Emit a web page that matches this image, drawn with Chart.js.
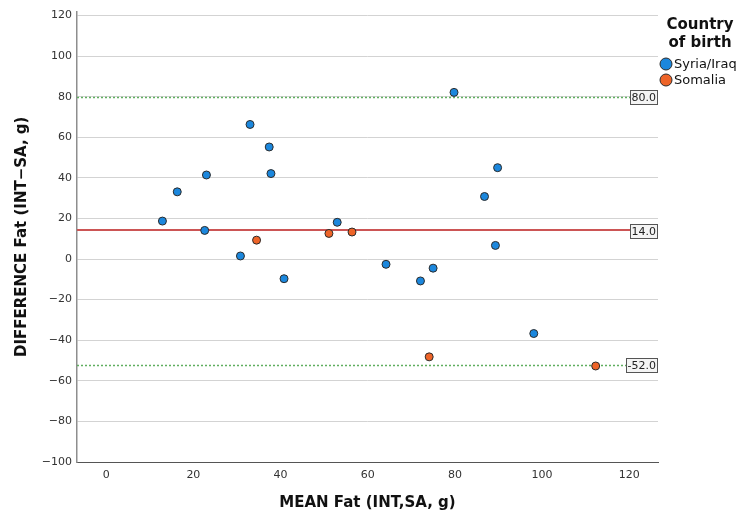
<!DOCTYPE html>
<html>
<head>
<meta charset="utf-8">
<title>Bland-Altman Fat</title>
<script src="https://cdn.jsdelivr.net/npm/chart.js@4.4.1/dist/chart.umd.min.js"></script>
<style>
  html, body { margin: 0; padding: 0; background: #fff; }
  #wrap { position: relative; width: 744px; height: 518px; }
</style>
</head>
<body>
<div id="wrap"><canvas id="chart"></canvas></div>
<script>
(function () {
  "use strict";

  // values
  const syriaIraqX = [12.9, 16.3, 23.0, 22.6, 30.8, 33.0, 37.4, 37.8, 40.8, 53.0, 64.2, 72.1, 75.0, 79.8, 86.8, 89.8, 89.3, 98.1];
  const syriaIraqY = [18.7, 33.1, 41.4, 14.1, 1.5, 66.3, 55.2, 42.1, -9.7, 18.1, -2.6, -10.8, -4.5, 82.1, 30.8, 45.0, 6.7, -36.7];
  const somaliaX = [34.5, 51.1, 56.4, 74.1, 112.3];
  const somaliaY = [9.3, 12.6, 13.3, -48.2, -52.7];
  const meanDiff = 14;
  const loaLimits = [80, -52];
  const xTicks = [0, 20, 40, 60, 80, 100, 120];
  const yTicks = [-100, -80, -60, -40, -20, 0, 20, 40, 60, 80, 100, 120];
  const seriesLabels = ["Syria/Iraq", "Somalia"];
  const legendTitle = ["Country", "of birth"];

  const palette = {
    blue: "#1b87dd",
    orange: "#ee6428",
    outline: "#2b2b2b",
    grid: "#d3d3d3",
    text: "#333333",
    red: "#cc5555",
    green: "#5fae5f"
  };
  const fontFamily = "\"DejaVu Sans\", sans-serif";

  const toPoints = (xs, ys) => xs.map((x, i) => ({ x: x, y: ys[i] }));
  const minus = v => String(v).replace("-", "\u2212");

  const refLines = {
    id: "refLines",
    beforeDatasetsDraw(chart) {
      const { ctx, chartArea, scales } = chart;
      const y = scales.y;
      ctx.save();
      loaLimits.forEach(v => {
        const py = Math.round(y.getPixelForValue(v)) + 0.5;
        ctx.strokeStyle = palette.green;
        ctx.lineWidth = 1.5;
        ctx.setLineDash([2, 2]);
        ctx.beginPath();
        ctx.moveTo(chartArea.left, py);
        ctx.lineTo(chartArea.right, py);
        ctx.stroke();
      });
      const pm = Math.floor(y.getPixelForValue(meanDiff));
      ctx.setLineDash([]);
      ctx.strokeStyle = palette.red;
      ctx.lineWidth = 2;
      ctx.beginPath();
      ctx.moveTo(chartArea.left, pm);
      ctx.lineTo(chartArea.right, pm);
      ctx.stroke();
      ctx.restore();
    },
    afterDatasetsDraw(chart) {
      const { ctx, chartArea, scales } = chart;
      const y = scales.y;
      ctx.save();
      ctx.font = "11px " + fontFamily;
      ctx.textBaseline = "middle";
      ctx.textAlign = "left";
      [loaLimits[0], meanDiff, loaLimits[1]].forEach(v => {
        const label = v.toFixed(1);
        const py = Math.round(y.getPixelForValue(v));
        const w = Math.ceil(ctx.measureText(label).width) + 2;
        const h = 14;
        const x0 = Math.round(chartArea.right) - w - 1;
        ctx.fillStyle = "#f4f4f4";
        ctx.fillRect(x0, py - h / 2, w, h);
        ctx.strokeStyle = "#555";
        ctx.lineWidth = 1;
        ctx.strokeRect(x0 + 0.5, py - h / 2 + 0.5, w, h);
        ctx.fillStyle = "#222";
        ctx.fillText(label, x0 + 1.5, py + 1);
      });
      ctx.restore();
    }
  };

  const sideLegend = {
    id: "sideLegend",
    afterDraw(chart) {
      const { ctx } = chart;
      ctx.save();
      ctx.fillStyle = "#111";
      ctx.textAlign = "center";
      ctx.textBaseline = "middle";
      ctx.font = "bold 15px " + fontFamily;
      legendTitle.forEach((line, i) => ctx.fillText(line, 700, 25 + i * 18));
      ctx.font = "13px " + fontFamily;
      ctx.textAlign = "left";
      chart.data.datasets.forEach((ds, i) => {
        const cy = 64 + i * 16;
        ctx.beginPath();
        ctx.arc(666, cy, 6, 0, Math.PI * 2);
        ctx.fillStyle = ds.backgroundColor;
        ctx.fill();
        ctx.lineWidth = 1;
        ctx.strokeStyle = palette.outline;
        ctx.stroke();
        ctx.fillStyle = "#111";
        ctx.fillText(ds.label, 674, cy + 1);
      });
      ctx.restore();
    }
  };

  new Chart(document.getElementById("chart"), {
    type: "scatter",
    data: {
      datasets: [
        {
          label: seriesLabels[0],
          data: toPoints(syriaIraqX, syriaIraqY),
          backgroundColor: palette.blue,
          borderColor: palette.outline,
          borderWidth: 1,
          pointRadius: 4
        },
        {
          label: seriesLabels[1],
          data: toPoints(somaliaX, somaliaY),
          backgroundColor: palette.orange,
          borderColor: palette.outline,
          borderWidth: 1,
          pointRadius: 4
        }
      ]
    },
    options: {
      responsive: true,
      maintainAspectRatio: false,
      animation: false,
      layout: { padding: { top: 10, right: 86, left: 0, bottom: 0 } },
      plugins: {
        legend: { display: false },
        tooltip: { enabled: false }
      },
      scales: {
        x: {
          type: "linear",
          min: -6.7,
          max: 126.6,
          afterBuildTicks: scale => { scale.ticks = xTicks.map(v => ({ value: v })); },
          afterFit: scale => { scale.height = 56; },
          grid: { display: false, drawTicks: false },
          border: { display: true, color: "#555", width: 1 },
          ticks: {
            color: palette.text,
            padding: 7,
            font: { family: fontFamily, size: 11 },
            callback: v => minus(v)
          },
          title: {
            display: true,
            text: "MEAN Fat (INT,SA, g)",
            color: "#111",
            padding: { top: 0, bottom: 6 },
            font: { family: fontFamily, size: 15, weight: "bold" }
          }
        },
        y: {
          type: "linear",
          min: -100,
          max: 121.9,
          afterBuildTicks: scale => { scale.ticks = yTicks.map(v => ({ value: v })); },
          afterFit: scale => { scale.width = 77; },
          grid: { color: palette.grid, lineWidth: 1, drawTicks: false },
          border: { display: true, color: "#8e8e8e", width: 1.5 },
          ticks: {
            color: palette.text,
            padding: 5,
            font: { family: fontFamily, size: 11 },
            callback: v => minus(v)
          },
          title: {
            display: true,
            text: "DIFFERENCE Fat (INT\u2212SA, g)",
            color: "#111",
            padding: { top: 13, bottom: 0 },
            font: { family: fontFamily, size: 15, weight: "bold" }
          }
        }
      }
    },
    plugins: [refLines, sideLegend]
  });
})();
</script>
</body>
</html>
